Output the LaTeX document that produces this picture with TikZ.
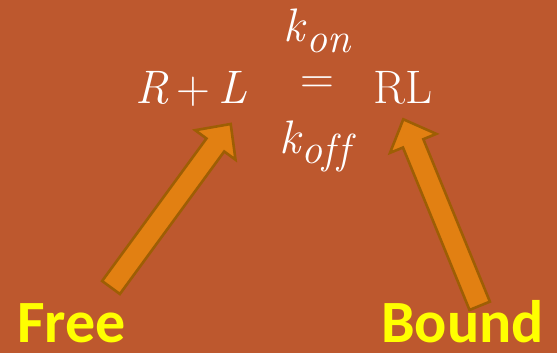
\documentclass[tikz,border=0pt]{standalone}
\usepackage{fontspec}
\newfontfamily\calib{Carlito}
\usetikzlibrary{calc}
\definecolor{bgc}{RGB}{189,88,46}
\definecolor{arrfill}{RGB}{226,128,18}
\definecolor{arrdraw}{RGB}{158,94,4}
\definecolor{lblyellow}{RGB}{255,255,0}
\tikzset{
  mathtxt/.style={text=white, inner sep=0pt, font=\fontsize{47}{50}\selectfont},
  lbl/.style={text=lblyellow, inner sep=0pt, font=\calib\bfseries\fontsize{60}{62}\selectfont},
  fatarrow/.style={fill=arrfill, draw=arrdraw, line width=2.6pt, line join=miter}
}
\newcommand\fatarr[2]{%
  \coordinate (#2N) at ($(#2)!26pt!(#1)$);
  \draw[fatarrow] ($(#1)!11pt!90:(#2)$) -- ($(#2N)!11pt!-90:(#1)$)
     -- ($(#2N)!25pt!-90:(#1)$) -- (#2) -- ($(#2N)!25pt!90:(#1)$)
     -- ($(#2N)!11pt!90:(#1)$) -- ($(#1)!11pt!-90:(#2)$) -- cycle;
}
\newcommand\lowsub[1]{\raisebox{-10pt}{\fontsize{42}{46}\selectfont\itshape #1}}
\begin{document}
\begin{tikzpicture}[x=1pt,y=-1pt]
  \fill[bgc] (0,0) rectangle (557,353);
  \useasboundingbox (0,0) rectangle (557,353);
  % equation
  \node[mathtxt, anchor=base] (rl) at (191,103) {\itshape R\upshape\,+\,\itshape L};
  \node[mathtxt, anchor=center] (eq) at (317,85.5) {=};
  \node[mathtxt, anchor=base] (cplx) at (403.5,103) {RL};
  \node[mathtxt, anchor=base] (kon) at (317,42) {\itshape k\kern1pt\lowsub{on}};
  \node[mathtxt, anchor=base] (koff) at (315,153) {\itshape k\kern1pt\lowsub{of\kern2ptf}};
  % labels
  \node[lbl, anchor=base west] (free) at (17,342) {Free};
  \node[lbl, anchor=base east] (bound) at (544,342) {Bound};
  % arrows
  \coordinate (freeT) at (111,287.5);
  \coordinate (freeH) at (230.7,124);
  \coordinate (boundT) at (479.7,305.8);
  \coordinate (boundH) at (403.3,119.3);
  \fatarr{freeT}{freeH}
  \fatarr{boundT}{boundH}
\end{tikzpicture}
\end{document}
